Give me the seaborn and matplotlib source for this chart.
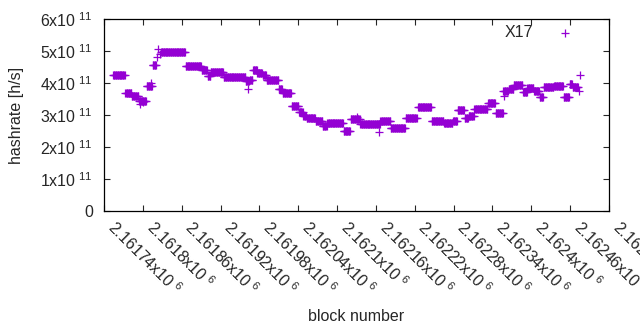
import numpy as np
import pandas as pd
import matplotlib
matplotlib.use("Agg")
import matplotlib.pyplot as plt
import seaborn as sns

# hashrate levels: (first block, last block, hashrate / 1e11)
seg_start = [2161754, 2161773, 2161783, 2161794, 2161806, 2161815, 2161828, 2161866,
             2161891, 2161900, 2161905, 2161925, 2161959, 2161965, 2161970, 2161977,
             2161985, 2161991, 2162010, 2162016, 2162030, 2162041, 2162048, 2162053,
             2162067, 2162078, 2162085, 2162110, 2162121, 2162136, 2162167, 2162183,
             2162206, 2162225, 2162246, 2162265, 2162279, 2162286, 2162297, 2162303,
             2162312, 2162333, 2162345, 2162357, 2162365, 2162373, 2162387, 2162394,
             2162404, 2162413, 2162419, 2162435, 2162450, 2162459, 2162464]
seg_end = [2161772, 2161782, 2161793, 2161805, 2161814, 2161820, 2161865, 2161890,
           2161899, 2161904, 2161924, 2161958, 2161964, 2161969, 2161976, 2161984,
           2161990, 2162009, 2162015, 2162029, 2162040, 2162047, 2162052, 2162066,
           2162077, 2162084, 2162109, 2162120, 2162135, 2162166, 2162182, 2162205,
           2162223, 2162245, 2162264, 2162278, 2162285, 2162296, 2162302, 2162311,
           2162332, 2162344, 2162356, 2162364, 2162372, 2162386, 2162393, 2162403,
           2162412, 2162418, 2162434, 2162449, 2162458, 2162463, 2162472]
seg_value = [4.24, 3.68, 3.60, 3.45, 3.92, 4.55, 4.96, 4.53,
             4.42, 4.23, 4.35, 4.20, 4.06, 4.10, 4.40, 4.30,
             4.25, 4.10, 3.80, 3.68, 3.28, 3.10, 2.98, 2.90,
             2.81, 2.65, 2.74, 2.49, 2.87, 2.71, 2.81, 2.60,
             2.90, 3.26, 2.82, 2.76, 2.82, 3.17, 2.90, 2.96,
             3.18, 3.36, 3.07, 3.76, 3.80, 3.94, 3.73, 3.83,
             3.74, 3.55, 3.87, 3.90, 3.57, 3.96, 3.88]

# single scattered points
out_block = [2161796, 2161800, 2161812, 2161822, 2161824, 2161826, 2161963,
             2162131, 2162165, 2162358, 2162474, 2162475]
out_value = [3.35, 3.40, 4.00, 4.80, 5.05, 4.90, 3.80,
             2.95, 2.47, 3.59, 3.76, 4.24]

x_ticks = [2161740 + 60 * k for k in range(14)]
y_ticks = [0, 1e11, 2e11, 3e11, 4e11, 5e11, 6e11]

blocks, rates = [], []
for a, b, v in zip(seg_start, seg_end, seg_value):
    blk = np.arange(a, b + 1)
    blocks.extend(blk)
    rates.extend([v * 1e11] * len(blk))
blocks.extend(out_block)
rates.extend([v * 1e11 for v in out_value])
df = pd.DataFrame({"block": blocks, "hashrate": rates})

sns.set_style("ticks")
plt.rcParams["font.family"] = ["Liberation Sans", "DejaVu Sans"]
plt.rcParams["mathtext.default"] = "regular"

fig = plt.figure(figsize=(6.4, 3.3), dpi=100)
ax = fig.add_axes([0.1625, 0.3606, 0.7891, 0.5818])

sns.scatterplot(data=df, x="block", y="hashrate", marker="+", color="#9400D3",
                s=32, linewidth=0.9, label="X17", ax=ax)

ax.set_xlim(2161740, 2162520)
ax.set_ylim(0, 6e11)
ax.set_xticks(x_ticks)
ax.set_xticklabels([f"{t / 1e6:g}x10$^{{\\ 6}}$" for t in x_ticks],
                   rotation=-45, ha="left", va="bottom", rotation_mode="anchor", fontsize=11.5)
ax.set_yticks(y_ticks)
ax.set_yticklabels(["0"] + [f"{i}x10$^{{\\ 11}}$" for i in range(1, 7)], fontsize=11.5)
ax.tick_params(direction="in", length=4, width=0.8, top=True, right=True)
ax.tick_params(axis="y", pad=8)
ax.tick_params(axis="x", pad=14)
for s in ax.spines.values():
    s.set_visible(True)
    s.set_linewidth(0.9)
    s.set_color("black")

ax.set_xlabel("block number", fontsize=11.5)
ax.set_ylabel("hashrate [h/s]", fontsize=11.5)
ax.xaxis.set_label_coords(0.5, -0.51)
ax.yaxis.set_label_coords(-0.158, 0.5)

ax.legend(loc="upper right", bbox_to_anchor=(0.957, 1.0), frameon=False, markerfirst=False,
          fontsize=11.5, handletextpad=1.0, borderaxespad=0)

fig.savefig("out.png", dpi=100)
